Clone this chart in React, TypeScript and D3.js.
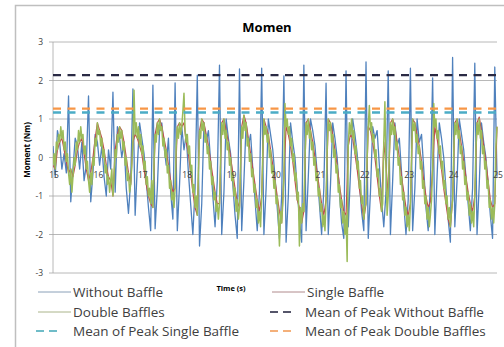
import * as d3 from 'd3'

// sample step of the recorded series (s)
const T0 = 15
const STEP_COARSE = 0.05 // Without Baffle, Single Baffle
const STEP_FINE = 0.025 // Double Baffles

const xTicks = [15, 16, 17, 18, 19, 20, 21, 22, 23, 24, 25]
const yTicks = [3, 2, 1, 0, -1, -2, -3]

const withoutBaffle = [
  0.3, -0.5, 0.7, 0.4, -0.3, 0.1, -0.4, 1.6,
  -1.15, -0.3, 0.5, 0.3, -0.3, 0.4, -0.6, -0.2, 1.6,
  -1.15, -0.4, 0.6, 0.4, -0.2, 0.3, -0.5, -1.0, 0.2, -0.3, 1.7,
  -0.9, 0.8, 0.5, 0.0, 0.4, -0.8, -1.45, -0.6, 1.78,
  -1.5, -0.2, 0.9, 0.5, 0.1, -0.6, -1.3, -1.9, 1.88,
  -1.85, -0.8, 0.7, 0.9, 0.3, -0.2, 0.5, -0.9, -1.6, 1.94,
  -1.9, -0.7, 0.8, 0.2, 0.6, -0.4, -1.2, -2.0, -0.8, 2.14,
  -2.3, -1.2, 0.9, 0.4, 0.7, -0.1, -1.0, -1.8, -0.6, 2.4,
  -2.0, -0.9, 1.0, 0.5, 0.1, -0.7, -1.5, -2.1, 2.3,
  -1.9, -0.6, 0.9, 0.3, 0.6, -0.3, -1.1, -1.9, -0.9, 2.32,
  -2.0, -0.8, 1.0, 0.6, 0.2, -0.5, -1.3, -2.1, -1.0, 2.12,
  -2.2, -1.0, 0.9, 0.4, 0.0, -0.8, -1.6, -2.2, 2.4,
  -1.9, -0.5, 1.0, 0.7, 0.3, -0.4, -1.2, -2.0, -0.8, 1.93,
  -2.0, -0.7, 0.9, 0.5, 0.0, -0.9, -1.7, -2.1, 2.25,
  -1.8, -0.4, 1.0, 0.6, 0.1, -0.6, -1.4, -1.9, 2.48,
  -2.1, -0.9, 0.8, 0.5, 0.7, -0.2, -1.1, -1.8, -0.9, 2.25,
  -2.0, -0.6, 0.9, 0.3, 0.5, -0.4, -1.2, -2.0, -1.1, 2.32,
  -1.9, -0.8, 1.0, 0.4, 0.6, -0.3, -1.3, -1.9, -0.7, 2.07,
  -2.0, -0.5, 0.9, 0.5, 0.0, -0.8, -1.6, -2.2, 2.6,
  -1.8, -0.6, 1.0, 0.6, 0.2, -0.5, -1.2, -1.9, -0.8, 2.45,
  -2.0, -0.7, 0.9, 0.4, 0.0, -0.7, -1.5, -2.1, 2.35,
  -0.5,
]

// mostly hidden under the Double Baffles trace
const singleBaffle = [
  -0.2, -0.3, 0.2, 0.4, 0.5, 0.2, -0.1,
  -0.4, -0.3, -0.5, -0.2, 0.2, 0.4, 0.5, 0.1, -0.3,
  -0.6, -0.4, 0.0, 0.5, 0.9, 0.7, 0.5, 0.2, -0.2, -0.5, -0.6,
  -1.0, 0.2, 0.6, 0.8, 0.7, 0.4, 0.0, -0.4, -0.7,
  0.4, 0.6, 0.5, 0.3, 0.1, -0.3, -0.7, -1.0, -1.2,
  -1.3, 0.6, 0.9, 1.0, 0.8, 0.5, 0.2, -0.2, -0.6, -0.9,
  -0.8, 0.8, 0.9, 0.8, 0.9, 0.4, 0.1, -0.4, -0.9, -1.3,
  -1.5, 0.7, 1.0, 0.9, 0.6, 0.3, -0.1, -0.5, -0.9, -1.2,
  -1.2, 0.9, 1.0, 0.7, 0.4, 0.0, -0.4, -0.8, -1.15,
  -1.3, 0.8, 1.1, 0.9, 0.5, 0.1, -0.3, -0.7, -1.1, -1.4,
  -1.0, 1.0, 0.8, 0.6, 0.2, -0.2, -0.6, -1.0, -1.4, -1.7,
  -0.5, 0.8, 0.6, 0.3, -0.1, -0.6, -1.1, -1.3, -1.7,
  -1.4, 0.9, 1.0, 0.7, 0.4, 0.0, -0.4, -0.8, -1.2, -1.5,
  -1.1, 1.0, 0.9, 0.6, 0.2, -0.2, -0.7, -1.1, -1.4,
  -1.5, 0.3, 0.6, 0.5, 0.1, -0.3, -0.8, -1.2, -1.6,
  -1.2, 0.8, 0.7, 0.4, 0.0, -0.5, -1.0, -1.4, 0.4, -0.2,
  -1.0, 0.9, 1.0, 0.8, 0.4, 0.0, -0.5, -0.9, -1.3, -1.5,
  -1.2, 1.0, 0.9, 0.6, 0.3, -0.1, -0.6, -1.0, -1.3, -1.15,
  -0.3, 0.8, 0.5, 0.1, -0.3, -0.8, -1.2, -1.6, -1.8,
  -1.1, 0.9, 1.0, 0.7, 0.3, -0.1, -0.5, -0.9, -1.2, -1.4,
  -1.0, 0.9, 1.05, 0.7, 0.3, -0.1, -0.6, -1.1, -1.3,
  -1.2, 0.8,
]

const doubleBaffles = [
  -0.2, 0.1, -0.3, 0.4, 0.2, 0.6, 0.4, 0.8, 0.5, 0.7, 0.2, 0.4, -0.1, 0.1,
  -0.4, -0.7, -0.3, -0.9, -0.5, 0.0, -0.2, 0.4, 0.2, 0.7, 0.4, 0.8, 0.5, 0.6, 0.1, 0.3, -0.3, -0.1,
  -0.6, -0.9, -0.4, -0.7, 0.0, -0.2, 0.5, 0.3, 0.9, 0.6, 0.7, 0.3, 0.5, 0.0, 0.2, -0.4, -0.2, -0.7, -0.5, -0.9, -0.6, -0.3,
  -1.0, -0.5, 0.2, 0.0, 0.6, 0.4, 0.8, 0.5, 0.7, 0.2, 0.4, -0.2, 0.0, -0.6, -0.4, -0.9, -0.7, -0.2,
  0.4, 1.75, 0.6, 0.9, 0.5, 0.8, 0.3, 0.6, 0.1, 0.3, -0.3, -0.1, -0.7, -0.5, -1.0, -0.8, -1.2, -0.6,
  -1.3, -0.2, 0.6, 0.4, 0.9, 0.6, 1.0, 0.7, 0.8, 0.3, 0.5, 0.0, 0.2, -0.4, -0.2, -0.8, -0.6, -1.1, -0.9, -1.3,
  -0.8, 0.3, 0.8, 0.5, 0.9, 0.6, 0.8, 1.2, 1.67, 0.7, 0.4, 0.6, 0.1, 0.3, -0.4, -0.2, -0.9, -0.7, -1.3, -1.0,
  -1.5, -0.4, 0.7, 0.5, 1.0, 0.7, 0.9, 0.4, 0.6, 0.1, 0.3, -0.3, -0.1, -0.7, -0.5, -1.1, -0.9, -1.4, -1.2, -1.6,
  -1.2, 0.0, 0.9, 0.6, 1.0, 0.5, 0.7, 0.2, 0.4, -0.2, 0.0, -0.6, -0.4, -1.0, -0.8, -1.4, -1.1, -1.6,
  -1.3, -0.2, 0.8, 0.5, 1.1, 0.7, 0.9, 0.3, 0.5, -0.1, 0.1, -0.5, -0.3, -0.9, -0.7, -1.3, -1.1, -1.7, -1.4, -1.8,
  -1.0, 0.1, 1.0, 0.6, 0.8, 0.4, 0.6, 0.0, 0.2, -0.4, -0.2, -0.8, -0.6, -1.2, -1.0, -1.5, -2.3, -1.4, -1.7, -1.2,
  -0.5, 1.4, 0.8, 1.0, 0.6, 0.8, 0.3, 0.5, -0.1, 0.1, -0.6, -0.4, -1.1, -0.9, -2.3, -1.3, -1.7, -1.2,
  -1.4, -0.1, 0.9, 0.6, 1.0, 0.5, 0.7, 0.2, 0.4, -0.2, 0.0, -0.6, -0.4, -1.0, -0.8, -1.4, -1.2, -1.8, -1.5, -1.9,
  -1.1, 0.2, 1.0, 0.7, 0.9, 0.4, 0.6, 0.0, 0.2, -0.4, -0.2, -0.9, -0.7, -1.3, -1.1, -1.7, -1.4, -2.0,
  -1.5, -2.7, 0.3, 0.9, 0.6, 1.0, 0.5, 0.7, 0.1, 0.3, -0.3, -0.1, -0.8, -0.6, -1.2, -1.0, -1.6, -1.3,
  -1.2, 0.0, 0.8, 1.35, 0.7, 0.9, 0.4, 0.6, 0.0, 0.2, -0.5, -0.3, -1.0, -0.8, -1.4, -1.2, 0.4, 1.45, -0.2, -1.5,
  -1.0, 0.1, 0.9, 0.6, 1.0, 0.6, 0.8, 0.2, 0.4, -0.2, 0.0, -0.7, -0.5, -1.1, -0.9, -1.5, -1.3, -1.8, -1.5, -1.9,
  -1.2, 0.0, 1.0, 0.7, 0.9, 0.4, 0.6, 0.1, 0.3, -0.3, -0.1, -0.8, -0.6, -1.2, -1.0, -1.6, -1.3, -1.8, -1.5, -1.1,
  -0.3, 1.4, 0.8, 1.0, 0.5, 0.7, 0.1, 0.3, -0.3, -0.1, -0.8, -0.6, -1.2, -1.0, -1.6, -1.3, -1.8, -1.4,
  -1.1, 0.1, 0.9, 0.6, 1.0, 0.5, 0.7, 0.1, 0.3, -0.3, -0.1, -0.7, -0.5, -1.1, -0.9, -1.5, -1.2, -1.7, -1.4, -1.8,
  -1.0, 0.2, 0.9, 0.6, 1.0, 0.5, 0.7, 0.1, 0.3, -0.3, -0.1, -0.8, -0.6, -1.3, -1.1, -1.6, -1.3, -1.7,
  -1.2, 0.3, 0.8,
]

// mean of peaks (Nm)
const meanPeakWithout = 2.14
const meanPeakSingle = 1.17
const meanPeakDouble = 1.27

const C_BLUE = '#4f81bd'
const C_RED = '#c0504d'
const C_GREEN = '#9bbb59'
const C_DARK = '#2a2a44'
const C_TEAL = '#4bacc6'
const C_ORANGE = '#f79646'

const legendItems = [
  { label: 'Without Baffle', color: '#8aa0b8', dashed: false, col: 0, row: 0 },
  { label: 'Single Baffle', color: '#b08a8c', dashed: false, col: 1, row: 0 },
  { label: 'Double Baffles', color: '#aab48a', dashed: false, col: 0, row: 1 },
  { label: 'Mean of Peak Without Baffle', color: '#55556a', dashed: true, col: 1, row: 1 },
  { label: 'Mean of Peak Single Baffle', color: '#6fbcc8', dashed: true, col: 0, row: 2 },
  { label: 'Mean of Peak Double Baffles', color: '#f4b07a', dashed: true, col: 1, row: 2 },
]

const W = 504
const H = 347
const margin = { top: 42, right: 7, bottom: 74, left: 53 }
const FONT = '"Open Sans", "DejaVu Sans", sans-serif'

export default function App() {
  const x = d3.scaleLinear().domain([15, 25]).range([margin.left, W - margin.right])
  const y = d3.scaleLinear().domain([-3, 3]).range([H - margin.bottom, margin.top])

  const lineCoarse = d3
    .line<number>()
    .x((_, i) => x(T0 + i * STEP_COARSE))
    .y((d) => y(d))
  const lineFine = d3
    .line<number>()
    .x((_, i) => x(T0 + i * STEP_FINE))
    .y((d) => y(d))

  const x0 = x(15)
  const x1 = x(25)
  const y0 = y(0)

  const means = [
    { v: meanPeakWithout, color: C_DARK },
    { v: meanPeakSingle, color: C_TEAL },
    { v: meanPeakDouble, color: C_ORANGE },
  ]

  const legendX = [38, 272]
  const legendY = [292, 312, 331]

  return (
    <div style={{ position: 'fixed', left: 0, top: 0 }}>
      <svg width={W} height={H} style={{ display: 'block', background: '#fff' }}>
        <rect x={15.5} y={5.5} width={495} height={348} fill="#fff" stroke="#bfbfbf" strokeWidth={1.5} />

        <text x={267} y={32} textAnchor="middle" fontFamily={FONT} fontSize={13} fontWeight="bold" fill="#000">
          Momen
        </text>

        {/* gridlines */}
        {yTicks.map((t) => (
          <line key={t} x1={x0} x2={x1} y1={y(t)} y2={y(t)} stroke="#a6a6a6" strokeWidth={0.8} />
        ))}
        <line x1={x0} x2={x0} y1={y(3)} y2={y(-3)} stroke="#a6a6a6" strokeWidth={0.8} />
        {yTicks.map((t) => (
          <g key={'yt' + t}>
            <line x1={x0 - 4} x2={x0} y1={y(t)} y2={y(t)} stroke="#a6a6a6" strokeWidth={0.8} />
            <text x={43} y={y(t) + 3} textAnchor="end" fontFamily={FONT} fontSize={8.5} fill="#404040">
              {t}
            </text>
          </g>
        ))}

        <defs>
          <clipPath id="plot">
            <rect x={x0} y={y(3) - 2} width={x1 - x0 + 1} height={y(-3) - y(3) + 4} />
          </clipPath>
        </defs>

        <g clipPath="url(#plot)" fill="none" strokeLinejoin="round">
          <path d={lineCoarse(withoutBaffle) ?? ''} stroke={C_BLUE} strokeWidth={1.3} />
          <path d={lineCoarse(singleBaffle) ?? ''} stroke={C_RED} strokeWidth={1.2} />
          <path d={lineFine(doubleBaffles) ?? ''} stroke={C_GREEN} strokeWidth={1.5} />
          {means.map((m) => (
            <line
              key={m.color}
              x1={x0}
              x2={x1}
              y1={y(m.v)}
              y2={y(m.v)}
              stroke={m.color}
              strokeWidth={2.4}
              strokeDasharray="8,6.5"
            />
          ))}
        </g>

        {/* x tick labels next to the zero axis */}
        {xTicks.map((t) => (
          <text key={'xt' + t} x={x(t) + 1} y={y0 + 20} textAnchor="middle" fontFamily={FONT} fontSize={8.5} fill="#404040">
            {t}
          </text>
        ))}

        <text
          transform={`translate(30,150) rotate(-90)`}
          textAnchor="middle"
          fontFamily={FONT}
          fontSize={8}
          fontWeight="bold"
          fill="#000"
        >
          Moment (Nm)
        </text>
        <text x={231} y={291} textAnchor="middle" fontFamily={FONT} fontSize={7.5} fontWeight="bold" fill="#000">
          Time (s)
        </text>

        {legendItems.map((it) => {
          const lx = legendX[it.col]
          const ly = legendY[it.row]
          return (
            <g key={it.label}>
              {it.dashed ? (
                <line x1={lx - 2} x2={lx + 24} y1={ly} y2={ly} stroke={it.color} strokeWidth={2} strokeDasharray="8,5" />
              ) : (
                <line x1={lx} x2={lx + 33} y1={ly} y2={ly} stroke={it.color} strokeWidth={1} />
              )}
              <text x={it.dashed && it.col === 1 ? lx + 33 : lx + 35} y={ly + 5} fontFamily={FONT} fontSize={13.5} fill="#404040">
                {it.label}
              </text>
            </g>
          )
        })}
      </svg>
    </div>
  )
}
